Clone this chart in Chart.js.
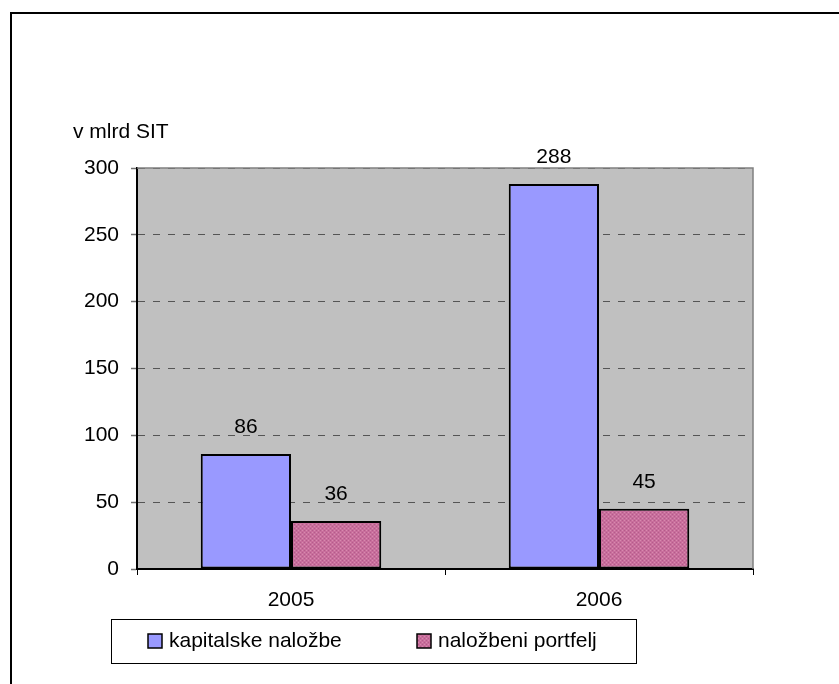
<!DOCTYPE html>
<html>
<head>
<meta charset="utf-8">
<script src="https://cdn.jsdelivr.net/npm/chart.js@4.4.1/dist/chart.umd.min.js"></script>
<style>
    html, body { margin: 0; padding: 0; background: #fff; overflow: hidden; }
    #wrap { position: relative; width: 839px; height: 684px; }
    #frame { position: absolute; left: 10px; top: 12px; width: 900px; height: 800px; border: 2px solid #000; box-sizing: border-box; }
    canvas { position: absolute; left: 0; top: 0; }
</style>
</head>
<body>
<div id="wrap">
    <div id="frame"></div>
    <canvas id="invest_chart" width="839" height="684"></canvas>
</div>
<script>
const years = ['2005', '2006'];
const kapitalske = [86, 288];
const portfelj = [36, 45];
const seriesNames = ['kapitalske naložbe', 'naložbeni portfelj'];
const yTicks = [0, 50, 100, 150, 200, 250, 300];
const unitLabel = 'v mlrd SIT';

const FONT = '"Liberation Sans", Arial, sans-serif';

// pink hatch like the excel fill
function makePattern() {
    const c = document.createElement('canvas');
    c.width = 4; c.height = 4;
    const g = c.getContext('2d');
    g.fillStyle = '#c86e9c';
    g.fillRect(0, 0, 4, 4);
    g.fillStyle = '#d88aae';
    g.fillRect(0, 0, 1, 1); g.fillRect(2, 2, 1, 1);
    g.fillStyle = '#b45c8a';
    g.fillRect(2, 0, 1, 1); g.fillRect(0, 2, 1, 1);
    return g.createPattern(c, 'repeat');
}
const pinkFill = makePattern();
const blueFill = '#9999ff';

const plotDecor = {
    id: 'plotDecor',
    beforeDraw(chart) {
        const a = chart.chartArea, ctx = chart.ctx;
        ctx.save();
        ctx.fillStyle = '#c0c0c0';
        ctx.fillRect(a.left, a.top, a.right - a.left, a.bottom - a.top);
        ctx.restore();
    },
    afterDatasetsDraw(chart) {
        const a = chart.chartArea, ctx = chart.ctx;
        ctx.save();
        // gray frame top/right
        ctx.strokeStyle = '#808080';
        ctx.lineWidth = 1.5;
        ctx.beginPath();
        ctx.moveTo(a.left, a.top);
        ctx.lineTo(a.right, a.top);
        ctx.lineTo(a.right, a.bottom);
        ctx.stroke();

        // value labels
        ctx.fillStyle = '#000';
        ctx.font = '21px ' + FONT;
        ctx.textAlign = 'center';
        ctx.textBaseline = 'middle';
        chart.data.datasets.forEach((ds, i) => {
            chart.getDatasetMeta(i).data.forEach((bar, j) => {
                ctx.fillText(String(ds.data[j]), bar.x, bar.y - 27);
            });
        });

        // unit label
        ctx.textAlign = 'left';
        ctx.fillText(unitLabel, a.left - 64, a.top - 36);

        // legend box
        const lx = 111, ly = 619, lw = 525, lh = 44;
        ctx.strokeStyle = '#000';
        ctx.lineWidth = 1;
        ctx.strokeRect(lx + 0.5, ly + 0.5, lw, lh);
        const itemX = [148, 417];
        chart.data.datasets.forEach((ds, i) => {
            const x = itemX[i], y = ly + lh / 2;
            ctx.fillStyle = ds.backgroundColor;
            ctx.fillRect(x, y - 7, 14, 14);
            ctx.strokeStyle = '#000';
            ctx.lineWidth = 1.5;
            ctx.strokeRect(x, y - 7, 14, 14);
            ctx.fillStyle = '#000';
            ctx.fillText(ds.label, x + 21, y);
        });
        ctx.restore();
    }
};

const investChart = new Chart(document.getElementById('invest_chart').getContext('2d'), {
    type: 'bar',
    data: {
        labels: years,
        datasets: [
            {
                label: seriesNames[0],
                data: kapitalske,
                backgroundColor: blueFill,
                borderColor: '#000',
                borderWidth: 2,
                borderSkipped: false
            },
            {
                label: seriesNames[1],
                data: portfelj,
                backgroundColor: pinkFill,
                borderColor: '#000',
                borderWidth: 2,
                borderSkipped: false
            }
        ]
    },
    options: {
        responsive: false,
        animation: false,
        categoryPercentage: 0.586,
        barPercentage: 1,
        layout: { padding: { left: 0, top: 168, right: 86, bottom: 0 } },
        plugins: {
            legend: { display: false },
            tooltip: { enabled: false }
        },
        scales: {
            x: {
                offset: true,
                afterFit: s => { s.height = 115; },
                grid: {
                    offset: true,
                    drawOnChartArea: false,
                    drawTicks: true,
                    tickLength: 6,
                    tickColor: '#000'
                },
                border: { display: true, color: '#000', width: 2 },
                ticks: { color: '#000', padding: 13, font: { family: FONT, size: 21 } }
            },
            y: {
                min: 0,
                max: 300,
                afterFit: s => { s.width = 137; },
                afterBuildTicks: s => { s.ticks = yTicks.map(v => ({ value: v })); },
                grid: {
                    color: '#555555',
                    lineWidth: 1,
                    tickLength: 6,
                    tickColor: '#707070',
                    tickBorderDash: [],
                    tickWidth: 1.5
                },
                border: { display: true, color: '#000', width: 2, dash: [7, 8] },
                ticks: { color: '#000', padding: 12, font: { family: FONT, size: 21 } }
            }
        }
    },
    plugins: [plotDecor]
});
</script>
</body>
</html>
